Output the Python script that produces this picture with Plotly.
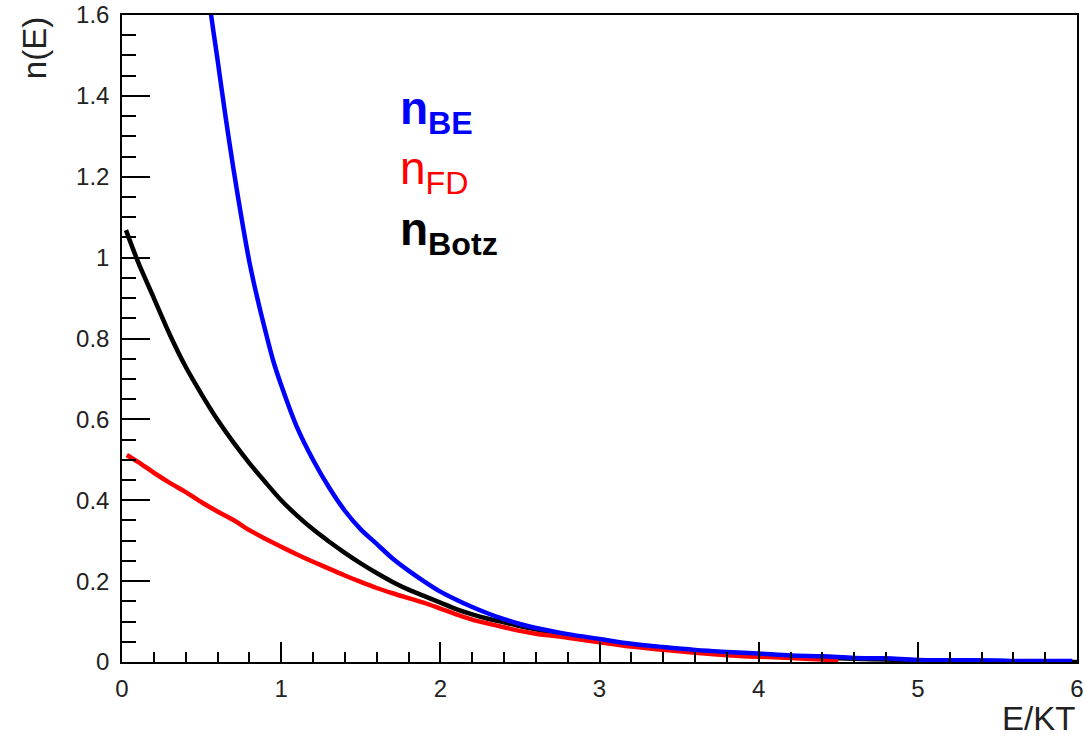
import plotly.graph_objects as go

# ---- data ----
x_botz = [0.025, 0.1, 0.2, 0.3, 0.4, 0.5, 0.6, 0.7, 0.8, 0.9, 1.0, 1.1, 1.2, 1.3, 1.4, 1.5,
          1.6, 1.7, 1.8, 1.9, 2.0, 2.1, 2.2, 2.3, 2.4, 2.5, 2.6, 2.8, 3.0, 3.2, 3.4, 3.6,
          3.8, 4.0, 4.2, 4.4, 4.6, 4.8, 5.0, 5.5, 6.0]
y_botz = [1.068, 0.99, 0.90, 0.81, 0.73, 0.662, 0.599, 0.543, 0.492, 0.445, 0.40, 0.362, 0.328,
          0.298, 0.270, 0.244, 0.220, 0.198, 0.179, 0.163, 0.147, 0.131, 0.118, 0.107, 0.098,
          0.089, 0.081, 0.066, 0.053, 0.043, 0.035, 0.028, 0.023, 0.018, 0.014, 0.011, 0.008,
          0.006, 0.004, 0.002, 0.0]

x_fd = [0.03, 0.1, 0.2, 0.3, 0.4, 0.5, 0.6, 0.7, 0.8, 0.9, 1.0, 1.1, 1.2, 1.3, 1.4, 1.5, 1.6,
        1.7, 1.8, 1.9, 2.0, 2.1, 2.2, 2.3, 2.4, 2.5, 2.6, 2.8, 3.0, 3.2, 3.4, 3.6, 3.8, 4.0,
        4.2, 4.4, 4.5]
y_fd = [0.512, 0.495, 0.468, 0.443, 0.42, 0.395, 0.372, 0.351, 0.326, 0.305, 0.285, 0.266,
        0.248, 0.231, 0.214, 0.198, 0.183, 0.170, 0.158, 0.146, 0.132, 0.118, 0.105, 0.095,
        0.086, 0.077, 0.070, 0.060, 0.049, 0.038, 0.030, 0.023, 0.017, 0.013, 0.010, 0.006,
        0.004]

x_be = [0.45, 0.5, 0.55, 0.6, 0.65, 0.7, 0.75, 0.8, 0.85, 0.9, 0.95, 1.0, 1.1, 1.2, 1.3, 1.4,
        1.5, 1.6, 1.7, 1.8, 1.9, 2.0, 2.1, 2.2, 2.3, 2.4, 2.5, 2.6, 2.8, 3.0, 3.2, 3.4, 3.6,
        3.8, 4.0, 4.2, 4.4, 4.6, 4.8, 5.0, 5.5, 5.6, 5.97]
y_be = [2.05, 1.83, 1.63, 1.49, 1.35, 1.22, 1.10, 0.99, 0.90, 0.82, 0.745, 0.685, 0.580,
        0.500, 0.432, 0.374, 0.328, 0.292, 0.256, 0.226, 0.199, 0.174, 0.154, 0.136, 0.120,
        0.106, 0.094, 0.084, 0.069, 0.057, 0.045, 0.037, 0.030, 0.025, 0.021, 0.016, 0.014,
        0.010, 0.009, 0.005, 0.004, 0.0025, 0.0025]

x_ticks = [0, 1, 2, 3, 4, 5, 6]
y_ticks = [0, 0.2, 0.4, 0.6, 0.8, 1.0, 1.2, 1.4, 1.6]
y_tick_labels = ["0", "0.2", "0.4", "0.6", "0.8", "1", "1.2", "1.4", "1.6"]

FONT = "Liberation Sans, Arial, sans-serif"

fig = go.Figure()
fig.add_trace(go.Scatter(x=x_botz, y=y_botz, mode="lines",
                         line=dict(color="black", width=4.5, shape="spline", smoothing=0.8),
                         name="Botz"))
fig.add_trace(go.Scatter(x=x_fd, y=y_fd, mode="lines",
                         line=dict(color="#ff0000", width=4.5, shape="spline", smoothing=0.8),
                         name="FD"))
fig.add_trace(go.Scatter(x=x_be, y=y_be, mode="lines",
                         line=dict(color="#0000ff", width=4.5, shape="spline", smoothing=0.8),
                         name="BE"))

fig.update_layout(
    width=1086, height=737,
    margin=dict(l=122, r=9, t=15, b=75, autoexpand=False),
    paper_bgcolor="white", plot_bgcolor="white",
    showlegend=False,
    font=dict(family=FONT, color="black"),
)

fig.update_xaxes(
    range=[0, 6], showgrid=False, zeroline=False, automargin=False,
    showline=True, linecolor="black", linewidth=1.5, mirror=True,
    ticks="inside", ticklen=20, tickwidth=1.5, tickcolor="black",
    tickvals=x_ticks, tickfont=dict(size=24, family=FONT, color="#222"),
    ticklabelstandoff=4,
    minor=dict(ticks="inside", ticklen=10, dtick=0.2, tickwidth=1.5, tickcolor="black"),
)
fig.update_yaxes(
    range=[0, 1.6], showgrid=False, zeroline=False, automargin=False,
    showline=True, linecolor="black", linewidth=1.5, mirror=True,
    ticks="inside", ticklen=28, tickwidth=1.5, tickcolor="black",
    tickvals=y_ticks, ticktext=y_tick_labels,
    tickfont=dict(size=24, family=FONT, color="#222"),
    ticklabelstandoff=6,
    minor=dict(ticks="inside", ticklen=14, dtick=0.05, tickwidth=1.5, tickcolor="black"),
)

# axis titles (ROOT style)
fig.add_annotation(text="n(E)", xref="paper", yref="paper", x=-0.092, y=1.0,
                   xanchor="center", yanchor="top", textangle=-90, showarrow=False,
                   font=dict(size=33, family=FONT, color="#222"))
fig.add_annotation(text="E/KT", xref="paper", yref="paper", x=1.0, y=-0.055,
                   xanchor="right", yanchor="top", showarrow=False,
                   font=dict(size=33, family=FONT, color="#222"))

# curve labels
fig.add_annotation(text="<b>n<sub>BE</sub></b>", x=1.734, y=1.362, xref="x", yref="y",
                   xanchor="left", yanchor="middle", showarrow=False,
                   font=dict(size=46, family=FONT, color="#0000ff"))
fig.add_annotation(text="n<sub>FD</sub>", x=1.734, y=1.214, xref="x", yref="y",
                   xanchor="left", yanchor="middle", showarrow=False,
                   font=dict(size=46, family=FONT, color="#ff0000"))
fig.add_annotation(text="<b>n<sub>Botz</sub></b>", x=1.734, y=1.061, xref="x", yref="y",
                   xanchor="left", yanchor="middle", showarrow=False,
                   font=dict(size=46, family=FONT, color="black"))

fig.write_html("out.html", config={"displayModeBar": False},
               post_script="document.body.style.margin='0';")
